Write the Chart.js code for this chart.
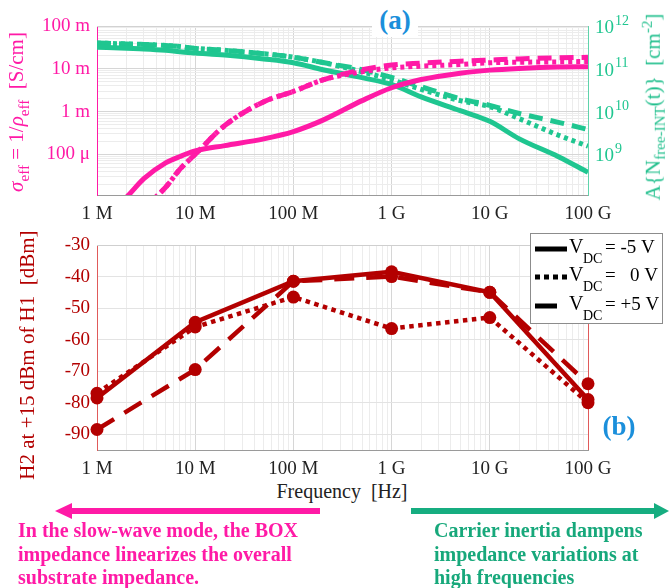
<!DOCTYPE html>
<html>
<head>
<meta charset="utf-8">
<script src="https://cdn.jsdelivr.net/npm/chart.js@4.4.1/dist/chart.umd.min.js"></script>
<style>
  body { margin: 0; background: #fff; }
  #page { position: relative; width: 669px; height: 588px; overflow: hidden; font-family: "Liberation Serif", "Times New Roman", serif; }
  canvas { position: absolute; left: 0; }
  #chartA { top: 0; }
  #chartB { top: 225px; }
  .txt { position: absolute; white-space: nowrap; line-height: 1; }
  .rot { transform: translate(-50%, -50%) rotate(-90deg); }
  .txt sub { font-size: 0.72em; vertical-align: -0.38em; }
  .txt sup { font-size: 0.72em; vertical-align: 0.5em; }
  .note { position: absolute; font-weight: bold; font-size: 20px; line-height: 23.5px; }
</style>
</head>
<body>
<div id="page">
  <canvas id="chartA" width="669" height="225"></canvas>
  <canvas id="chartB" width="669" height="255"></canvas>

  <div class="txt rot" style="left:19px;top:112px;color:#ff1aa6;font-size:21px"><i>σ</i><sub>eff</sub> = 1/<i>ρ</i><sub>eff</sub>&nbsp;&nbsp;[S/cm]</div>
  <div class="txt rot" style="left:654px;top:107px;color:#1fbf8c;font-size:21px">A{N<sub>free-INT</sub>(t)}&nbsp;&nbsp;[cm<sup>-2</sup>]</div>
  <div class="txt rot" style="left:27px;top:355px;color:#b30000;font-size:21px">H2 at +15 dBm of H1&nbsp;&nbsp;[dBm]</div>
  <div class="txt" style="left:342px;top:491px;transform:translate(-50%,-50%);color:#222;font-size:20px">Frequency&nbsp;&nbsp;[Hz]</div>

  <div class="txt" style="left:372px;top:3px;width:46px;height:34px;background:#fff;color:#1b8fdb;font-weight:bold;font-size:27px;text-align:center;line-height:34px">(a)</div>
  <div class="txt" style="left:619px;top:426px;transform:translate(-50%,-50%);color:#1b8fdb;font-weight:bold;font-size:27px">(b)</div>

  <svg width="669" height="588" style="position:absolute;left:0;top:0;pointer-events:none">
    <line x1="320" y1="511" x2="68" y2="511" stroke="#ff1aa6" stroke-width="6"/>
    <polygon points="55,511 72,503 72,519" fill="#ff1aa6"/>
    <line x1="411" y1="511" x2="658" y2="511" stroke="#16ad80" stroke-width="6"/>
    <polygon points="669,511 654,503 654,519" fill="#16ad80"/>
  </svg>

  <div class="note" style="left:18px;top:519px;color:#ff1aa6">In the slow-wave mode, the BOX<br>impedance linearizes the overall<br>substrate impedance.</div>
  <div class="note" style="left:434px;top:519px;color:#17a87b">Carrier inertia dampens<br>impedance variations at<br>high frequencies</div>
</div>

<script>
// (a) effective conductivity and interface charge density vs frequency
const freqA = [1e6, 2e6, 3e6, 5e6, 7e6, 1e7, 2e7, 5e7, 1e8, 2e8, 5e8, 1e9, 2e9, 5e9, 1e10, 2e10, 5e10, 1e11];
const sigmaNeg5 = [2.5e-6, 1.0e-5, 2.7e-5, 6.3e-5, 8.9e-5, 1.2e-4, 1.6e-4, 2.3e-4, 3.4e-4, 6.3e-4, 1.8e-3, 3.6e-3, 5.6e-3, 7.9e-3, 9.3e-3, 1.02e-2, 1.1e-2, 1.12e-2];
const sigmaZero = [5e-7, 2e-6, 5.5e-6, 1.7e-5, 4.5e-5, 1.0e-4, 4.7e-4, 1.7e-3, 2.95e-3, 5.5e-3, 8.5e-3, 1.05e-2, 1.15e-2, 1.26e-2, 1.38e-2, 1.42e-2, 1.45e-2, 1.48e-2];
const sigmaPos5 = [5e-7, 2e-6, 5.5e-6, 1.7e-5, 4.5e-5, 1.0e-4, 4.7e-4, 1.7e-3, 2.95e-3, 5.5e-3, 9.5e-3, 1.22e-2, 1.35e-2, 1.5e-2, 1.6e-2, 1.7e-2, 1.8e-2, 1.85e-2];
const densNeg5 = [3.2e11, 3.0e11, 2.9e11, 2.7e11, 2.5e11, 2.35e11, 2.1e11, 1.7e11, 1.38e11, 9.5e10, 6.2e10, 4.3e10, 2.2e10, 1.05e10, 5.9e9, 2.3e9, 8.8e8, 3.8e8];
const densZero = [4e11, 3.8e11, 3.7e11, 3.5e11, 3.3e11, 3.0e11, 2.7e11, 2.25e11, 1.86e11, 1.4e11, 8.5e10, 5.5e10, 3.3e10, 1.8e10, 1.3e10, 6.8e9, 2.8e9, 1.55e9];
const densPos5 = [4e11, 3.8e11, 3.7e11, 3.5e11, 3.3e11, 3.0e11, 2.7e11, 2.25e11, 1.86e11, 1.4e11, 9.5e10, 6.3e10, 3.8e10, 2.0e10, 1.4e10, 9e9, 5.6e9, 3.8e9];

// (b) second harmonic vs frequency
const freqB = [1e6, 1e7, 1e8, 1e9, 1e10, 1e11];
const h2Neg5 = [-78.5, -54.5, -41.5, -38.5, -45, -79];
const h2Zero = [-77, -56, -46.5, -56.5, -53, -80];
const h2Pos5 = [-88.5, -69.5, -41.5, -40, -45, -74];

// ticks
const freqTickExps = [6, 7, 8, 9, 10, 11];
const freqTickLabels = ['1 M', '10 M', '100 M', '1 G', '10 G', '100 G'];
const sigmaTickExps = [-4, -3, -2, -1];
const sigmaTickLabels = ['100 μ', '1 m', '10 m', '100 m'];
const densTickExps = [9, 10, 11, 12];
const h2Ticks = [-90, -80, -70, -60, -50, -40, -30];
const biasLabels = ['= -5 V', '=   0 V', '= +5 V'];

const PINK = '#ff1aa6', GREEN = '#1fc690', RED = '#b30000';
const SERIF = '"Liberation Serif", "Times New Roman", serif';
Chart.defaults.font.family = SERIF;

const xy = (xs, ys) => xs.map((x, i) => ({ x, y: ys[i] }));
const isDecade = v => Math.abs(Math.log10(v) - Math.round(Math.log10(v))) < 1e-6;

function logTicks(min, max) {
  const t = [];
  for (let e = Math.floor(Math.log10(min)); e <= Math.ceil(Math.log10(max)); e++) {
    for (let m = 1; m < 10; m++) {
      const v = m * Math.pow(10, e);
      if (v >= min * 0.9999 && v <= max * 1.0001) t.push({ value: v, major: m === 1 });
    }
  }
  return t;
}
const gridColor = c => (c.tick && c.tick.major ? '#d6d6d6' : '#ececec');

const freqAxis = {
  type: 'logarithmic', min: 1e6, max: 1e11,
  afterBuildTicks: s => { s.ticks = logTicks(1e6, 1e11); },
  afterFit: s => { s.height = 30; },
  ticks: {
    autoSkip: false, maxRotation: 0, padding: 8, color: '#222', font: { size: 19 },
    callback: v => {
      if (!isDecade(v)) return '';
      const i = freqTickExps.indexOf(Math.round(Math.log10(v)));
      return i < 0 ? '' : freqTickLabels[i];
    }
  },
  grid: { color: gridColor, drawTicks: false },
  border: { color: '#9a9a9a' }
};

const framePlugin = {
  id: 'frame',
  beforeDatasetsDraw(chart, args, opts) {
    const a = chart.chartArea, ctx = chart.ctx;
    ctx.save();
    ctx.lineWidth = 1;
    ctx.strokeStyle = opts.top;
    ctx.beginPath(); ctx.moveTo(a.left, a.top + 0.5); ctx.lineTo(a.right, a.top + 0.5); ctx.stroke();
    if (opts.right) {
      ctx.strokeStyle = opts.right;
      ctx.beginPath(); ctx.moveTo(a.right + 0.5, a.top); ctx.lineTo(a.right + 0.5, a.bottom); ctx.stroke();
    }
    ctx.restore();
  }
};

const expLabelsPlugin = {
  id: 'expLabels',
  afterDraw(chart) {
    const s = chart.scales.y2, ctx = chart.ctx;
    ctx.save();
    ctx.fillStyle = GREEN;
    ctx.textBaseline = 'middle';
    densTickExps.forEach(e => {
      const y = s.getPixelForValue(Math.pow(10, e));
      ctx.font = '19px ' + SERIF;
      ctx.fillText('10', 595, y + 2);
      const w = ctx.measureText('10').width;
      ctx.font = '14px ' + SERIF;
      ctx.fillText(String(e), 595 + w + 1, y - 5);
    });
    ctx.restore();
  }
};

const lineA = (data, color, dash) => ({
  data, borderColor: color, borderWidth: 5, borderDash: dash, pointRadius: 0,
  cubicInterpolationMode: 'monotone', borderCapStyle: 'butt'
});

new Chart(document.getElementById('chartA'), {
  type: 'line',
  data: {
    datasets: [
      { ...lineA(xy(freqA, sigmaNeg5), PINK, []), yAxisID: 'y' },
      { ...lineA(xy(freqA, sigmaZero), PINK, [4, 4]), yAxisID: 'y' },
      { ...lineA(xy(freqA, sigmaPos5), PINK, [14, 8]), yAxisID: 'y' },
      { ...lineA(xy(freqA, densNeg5), GREEN, []), yAxisID: 'y2' },
      { ...lineA(xy(freqA, densZero), GREEN, [4, 4]), yAxisID: 'y2' },
      { ...lineA(xy(freqA, densPos5), GREEN, [14, 8]), yAxisID: 'y2' }
    ]
  },
  options: {
    responsive: false, animation: false, events: [],
    layout: { padding: { top: 26, left: 0, right: 0, bottom: 0 } },
    plugins: { legend: { display: false }, tooltip: { enabled: false }, frame: { top: '#d2d2d2' } },
    scales: {
      x: freqAxis,
      y: {
        type: 'logarithmic', position: 'left', min: 1.12e-5, max: 0.1,
        afterBuildTicks: s => { s.ticks = logTicks(1.12e-5, 0.1); },
        afterFit: s => { s.width = 97; },
        ticks: {
          autoSkip: false, padding: 7, color: PINK, font: { size: 19 },
          callback: v => {
            if (!isDecade(v)) return '';
            const i = sigmaTickExps.indexOf(Math.round(Math.log10(v)));
            return i < 0 ? '' : sigmaTickLabels[i];
          }
        },
        grid: { color: gridColor, drawTicks: false },
        border: { color: PINK }
      },
      y2: {
        type: 'logarithmic', position: 'right', min: 1.12e8, max: 1e12,
        afterFit: s => { s.width = 81; },
        ticks: { display: false },
        grid: { drawOnChartArea: false, drawTicks: false },
        border: { color: '#5fd3ab' }
      }
    }
  },
  plugins: [framePlugin, expLabelsPlugin]
});

const legendPlugin = {
  id: 'biasLegend',
  afterDraw(chart) {
    const ctx = chart.ctx;
    ctx.save();
    ctx.fillStyle = '#fff';
    ctx.fillRect(530, 8, 132, 90);
    ctx.strokeStyle = '#8c8c8c';
    ctx.lineWidth = 1;
    ctx.strokeRect(530.5, 8.5, 132, 90);
    const rows = [24, 52, 81];
    chart.data.datasets.forEach((ds, i) => {
      const y = rows[i];
      ctx.strokeStyle = '#000';
      ctx.lineWidth = 5;
      ctx.setLineDash(i === 1 ? [5, 4] : []);
      ctx.beginPath();
      ctx.moveTo(535, y);
      ctx.lineTo(i === 2 ? 557 : 567, y);
      ctx.stroke();
      ctx.setLineDash([]);
      ctx.fillStyle = '#000';
      ctx.textBaseline = 'alphabetic';
      ctx.font = '20px ' + SERIF;
      ctx.fillText('V', 569, y + 4);
      ctx.font = '14px ' + SERIF;
      ctx.fillText('DC', 583, y + 14);
      ctx.font = '19px ' + SERIF;
      ctx.fillText(biasLabels[i], 605, y + 4);
    });
    ctx.restore();
  }
};

const lineB = (data, dash) => ({
  data, borderColor: RED, backgroundColor: RED, borderWidth: 4.5, borderDash: dash,
  borderCapStyle: 'butt', pointRadius: 6.5, pointBorderWidth: 0, pointBackgroundColor: RED,
  tension: 0, clip: false
});

new Chart(document.getElementById('chartB'), {
  type: 'line',
  data: {
    datasets: [
      lineB(xy(freqB, h2Neg5), []),
      lineB(xy(freqB, h2Zero), [4.5, 4.5]),
      lineB(xy(freqB, h2Pos5), [20, 12])
    ]
  },
  options: {
    responsive: false, animation: false, events: [],
    layout: { padding: { top: 20, left: 0, right: 81, bottom: 0 } },
    plugins: { legend: { display: false }, tooltip: { enabled: false }, frame: { top: '#cfcfcf', right: '#e05a5a' } },
    scales: {
      x: freqAxis,
      y: {
        type: 'linear', min: -95, max: -30,
        afterBuildTicks: s => { s.ticks = h2Ticks.map(v => ({ value: v })); },
        afterFit: s => { s.width = 97; },
        ticks: { autoSkip: false, padding: 7, color: RED, font: { size: 19 }, callback: v => String(v) },
        grid: { color: '#e3e3e3', drawTicks: false },
        border: { color: '#e05a5a' }
      }
    }
  },
  plugins: [framePlugin, legendPlugin]
});
</script>
</body>
</html>
